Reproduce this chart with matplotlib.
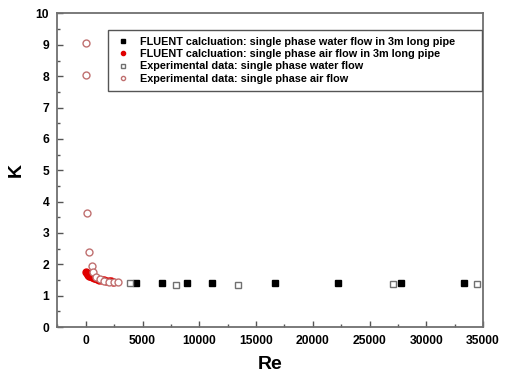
import matplotlib
matplotlib.use("Agg")
import matplotlib.pyplot as plt
from matplotlib.ticker import MultipleLocator
from matplotlib.patches import Rectangle

plt.rcParams['font.family'] = ['Liberation Sans', 'DejaVu Sans']
plt.rcParams['font.weight'] = 'bold'

# FLUENT water
re_fw = [4444, 6667, 8889, 11111, 16667, 22222, 27778, 33333]
k_fw = [1.41, 1.41, 1.40, 1.40, 1.39, 1.39, 1.39, 1.39]
# FLUENT air
re_fa = [50, 100, 150, 200, 300, 400, 500, 600, 700, 800, 1000, 1200, 1400, 1600, 1800, 2000, 2200, 2400]
k_fa = [1.74, 1.71, 1.69, 1.67, 1.64, 1.62, 1.60, 1.58, 1.57, 1.56, 1.53, 1.51, 1.50, 1.49, 1.48, 1.47, 1.46, 1.45]
# Experimental water
re_ew = [3880, 7940, 13400, 27070, 34480]
k_ew = [1.40, 1.33, 1.35, 1.37, 1.37]
# Experimental air
re_ea = [20, 30, 60, 265, 530, 620, 880, 1235, 1610, 2030, 2440, 2850]
k_ea = [9.07, 8.03, 3.65, 2.40, 1.93, 1.77, 1.61, 1.53, 1.47, 1.45, 1.44, 1.44]

labels = ["FLUENT calcluation: single phase water flow in 3m long pipe",
          "FLUENT calcluation: single phase air flow in 3m long pipe",
          "Experimental data: single phase water flow",
          "Experimental data: single phase air flow"]

fig = plt.figure(figsize=(5.07, 3.79), dpi=100)
ax = fig.add_axes([0.1134, 0.1372, 0.8393, 0.8272])

ax.plot(re_fw, k_fw, 's', color='black', ms=4.5, mec='black', label=labels[0], zorder=4)
ax.plot(re_fa, k_fa, 'o', color='#e00000', ms=5, mec='#e00000', label=labels[1], zorder=3)
ax.plot(re_ew, k_ew, 's', mfc='white', mec='#707070', ms=4.5, mew=1.0, label=labels[2], zorder=4)
ax.plot(re_ea, k_ea, 'o', mfc='white', mec='#c07070', ms=5, mew=1.0, label=labels[3], zorder=5)

ax.set_xlim(-2500, 35000)
ax.set_ylim(0, 10)
ax.xaxis.set_major_locator(MultipleLocator(5000))
ax.xaxis.set_minor_locator(MultipleLocator(2500))
ax.yaxis.set_major_locator(MultipleLocator(1))
ax.yaxis.set_minor_locator(MultipleLocator(0.5))
ax.tick_params(axis='both', which='both', direction='in', top=False, right=False,
               colors='#555555', labelcolor='black', labelsize=8.7)
ax.tick_params(which='major', length=4, width=1, pad=6)
ax.tick_params(which='minor', length=2, width=1)
for lab in ax.get_xticklabels() + ax.get_yticklabels():
    lab.set_fontweight('bold')
for s in ax.spines.values():
    s.set_color('#707070')
    s.set_linewidth(1.3)

ax.set_xlabel('Re', fontsize=14, fontweight='bold', labelpad=6)
ax.set_ylabel('K', fontsize=14, fontweight='bold', labelpad=8)

leg = ax.legend(loc='upper left', bbox_to_anchor=(0.1412, 0.925), fontsize=7.8,
                frameon=False, markerscale=0.6, handlelength=1.0,
                handletextpad=1.06, borderpad=0, labelspacing=0.2, borderaxespad=0)
for t in leg.get_texts():
    t.set_fontweight('bold')

ax.add_patch(Rectangle((0.119, 0.753), 0.8787, 0.194, transform=ax.transAxes,
                       fill=False, edgecolor='#555555', linewidth=1.0, zorder=6))

fig.savefig('out.png', dpi=100)
